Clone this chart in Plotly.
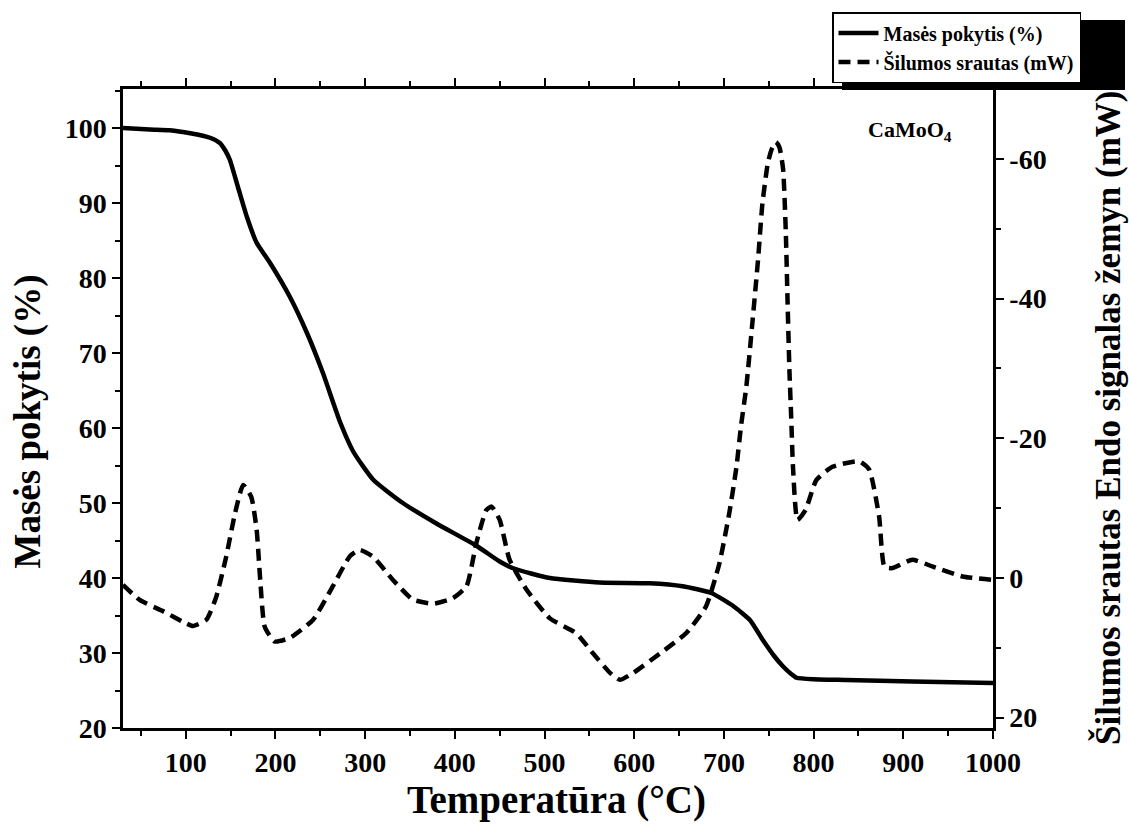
import plotly.graph_objects as go

# Thermogravimetric mass change of CaMoO4 precursor
temp_mass = [30, 60, 82, 105, 127, 138, 144, 149, 158, 168, 179, 194, 216, 235, 253,
             272, 287, 309, 342, 379, 424, 450, 465, 485, 506, 561, 617, 654, 686, 710,
             729, 743, 756, 766, 775, 781, 800, 836, 910, 1000]
mass_pct = [100.0, 99.8, 99.7, 99.3, 98.7, 98.0, 97.0, 95.8, 92.2, 88.2, 84.7, 82.0, 77.5,
            72.7, 67.3, 60.8, 56.8, 53.1, 50.0, 47.3, 44.3, 42.2, 41.3, 40.6, 40.0, 39.4,
            39.3, 38.9, 38.0, 36.3, 34.4, 31.8, 29.6, 28.2, 27.2, 26.7, 26.5, 26.4, 26.2, 26.0]

# Heat flow (DSC), endo signal plotted downward
temp_dsc = [30, 49, 75, 100, 108, 123, 134, 145, 155, 164, 173, 179, 183, 188, 199, 216,
            242, 264, 283, 294, 309, 331, 353, 376, 398, 413, 424, 435, 441, 450, 461,
            480, 506, 535, 554, 573, 584, 599, 629, 658, 680, 695, 706, 714, 719, 725,
            732, 738, 743, 749, 753, 758, 762, 766, 769, 771, 773, 775, 777, 782, 791,
            803, 821, 851, 862, 873, 879, 888, 910, 933, 966, 1000]
heat_flow = [1.0, 3.2, 4.8, 6.5, 6.9, 6.0, 2.7, -3.0, -9.3, -13.3, -11.6, -6.9, 0.3, 7.0,
             9.1, 8.6, 6.0, 1.2, -3.1, -4.0, -3.0, 0.3, 3.1, 3.7, 2.9, 1.2, -5.0, -9.7,
             -10.2, -8.3, -2.6, 1.7, 5.8, 7.9, 10.8, 13.6, 14.6, 13.6, 10.8, 7.9, 4.1,
             -2.1, -9.3, -15.9, -21.7, -27.4, -36.9, -45.5, -53.7, -59.4, -61.3, -62.4,
             -61.6, -58.5, -49.5, -39.3, -29.8, -23.0, -15.9, -8.3, -9.7, -14.0, -15.9,
             -16.7, -15.5, -8.8, -1.6, -1.4, -2.6, -1.6, -0.2, 0.3]

x_ticks = [100, 200, 300, 400, 500, 600, 700, 800, 900, 1000]
mass_ticks = [20, 30, 40, 50, 60, 70, 80, 90, 100]
flow_ticks = [20, 0, -20, -40, -60]
flow_labels = ["20", "0", "-20", "-40", "-60"]

series_names = ["Masės pokytis (%)", "Šilumos srautas (mW)"]

FONT = "Liberation Serif"
tick_font = dict(family=FONT, size=28, color="black", weight="bold")
DASH = "12px,7px"

fig = go.Figure()
fig.add_trace(go.Scatter(
    x=temp_mass, y=mass_pct, name=series_names[0], mode="lines",
    line=dict(color="black", width=4.5, shape="spline", smoothing=0.5)))
fig.add_trace(go.Scatter(
    x=temp_dsc, y=heat_flow, name=series_names[1], mode="lines", yaxis="y2",
    line=dict(color="black", width=4.5, dash=DASH, shape="spline", smoothing=0.5)))

axis_common = dict(
    showgrid=False, zeroline=False, showline=True, linecolor="black", linewidth=2.5,
    ticks="outside", ticklen=8, tickwidth=2, tickcolor="black", tickfont=tick_font,
)

# plot area in pixels: used to place the framed legend above the top-right corner
L, R, T, B = 123, 993, 89, 728


def fx(xp):
    return (xp - L) / (R - L)


def fy(yp):
    return (B - yp) / (B - T)


fig.update_layout(
    width=1129, height=825,
    margin=dict(l=L, r=1129 - R, t=T, b=825 - B),
    paper_bgcolor="white", plot_bgcolor="white",
    font=dict(family=FONT, color="black"),
    showlegend=True,
    legend=dict(
        x=fx(832), y=fy(12), xanchor="left", yanchor="top",
        bgcolor="white", bordercolor="black", borderwidth=1.5,
        font=dict(family=FONT, size=20, color="black", weight="bold"),
        tracegroupgap=0, itemwidth=40,
        entrywidth=255, entrywidthmode="pixels",
    ),
    xaxis=dict(
        axis_common, range=[30, 1000], tickvals=x_ticks, mirror="ticks",
        minor=dict(tickvals=[50 + 100 * i for i in range(10)], ticks="outside",
                   ticklen=5, tickwidth=2, tickcolor="black"),
    ),
    yaxis=dict(
        axis_common, range=[20, 105.2], tickvals=mass_ticks,
        minor=dict(tickvals=[25 + 10 * i for i in range(9)], ticks="outside",
                   ticklen=5, tickwidth=2, tickcolor="black"),
    ),
    yaxis2=dict(
        axis_common, overlaying="y", side="right", range=[21.5, -70],
        tickvals=flow_ticks, ticktext=flow_labels,
        minor=dict(tickvals=[10, -10, -30, -50], ticks="outside",
                   ticklen=5, tickwidth=2, tickcolor="black"),
    ),
    shapes=[
        # drop shadow behind the legend box
        dict(type="rect", xref="paper", yref="paper", layer="above",
             x0=fx(842), x1=fx(1125), y0=fy(90), y1=fy(20),
             fillcolor="black", line=dict(width=0)),
    ],
    annotations=[
        dict(text="<b>Masės pokytis (%)</b>", xref="paper", yref="paper",
             x=-0.109, y=0.48, xanchor="center", yanchor="middle",
             textangle=-90, showarrow=False,
             font=dict(family=FONT, size=37, color="black")),
        dict(text="<b>Šilumos srautas Endo signalas žemyn (mW)</b>", xref="paper",
             yref="paper", x=1.132, y=0.485, xanchor="center", yanchor="middle",
             textangle=-90, showarrow=False,
             font=dict(family=FONT, size=35, color="black")),
        dict(text="<b>Temperatūra (°C)</b>", xref="paper", yref="paper",
             x=0.498, y=-0.113, xanchor="center", yanchor="middle", showarrow=False,
             font=dict(family=FONT, size=39, color="black")),
        dict(text="<b>CaMoO<sub>4</sub></b>", xref="paper", yref="paper",
             x=0.905, y=0.935, xanchor="center", yanchor="middle", showarrow=False,
             font=dict(family=FONT, size=22, color="black")),
    ],
)

fig.write_html("out.html")
